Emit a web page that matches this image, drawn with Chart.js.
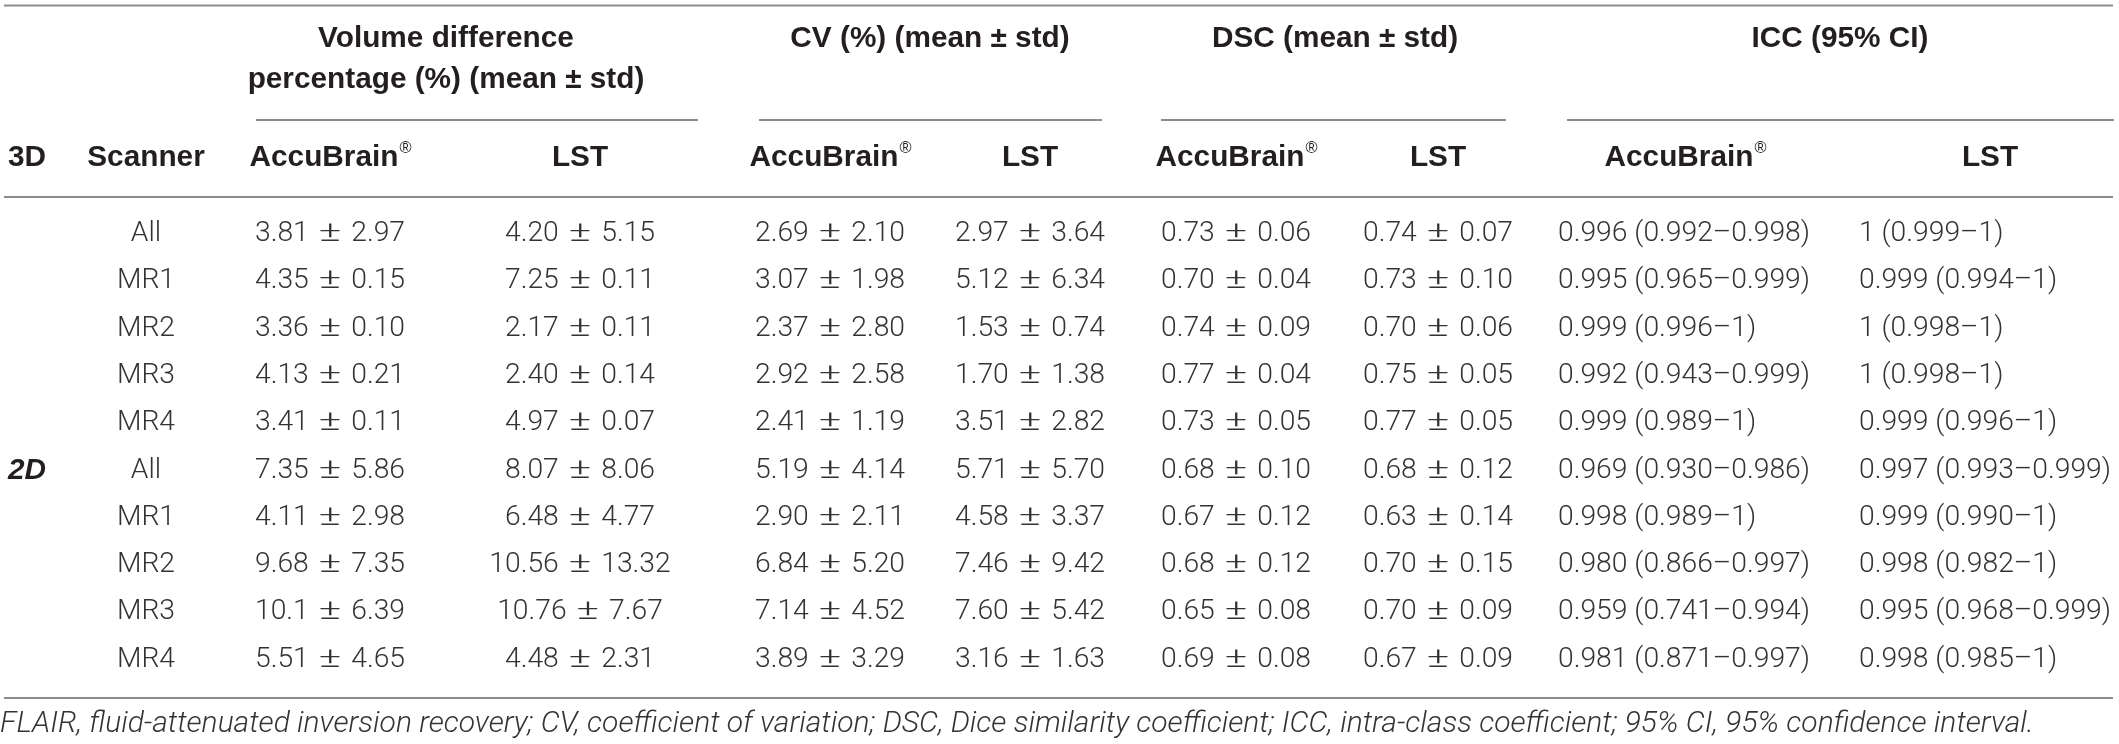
<!DOCTYPE html>
<html lang="en">
<head>
  <meta charset="UTF-8">
  <script src="https://cdn.jsdelivr.net/npm/chart.js@4.4.1/dist/chart.umd.min.js"></script>
  <title>Volume difference, CV, DSC and ICC by scanner</title>
  <style>
    html, body { margin: 0; padding: 0; background: #fff; }
    canvas { display: block; }
  </style>
</head>
<body>
  <canvas id="myChart" width="2119" height="744"></canvas>
  <script>
    // table content
    const groups = ['', '', '', '', '', '2D', '', '', '', ''];
    const scanners = ['All', 'MR1', 'MR2', 'MR3', 'MR4', 'All', 'MR1', 'MR2', 'MR3', 'MR4'];
    const volAccu = ['3.81 ± 2.97', '4.35 ± 0.15', '3.36 ± 0.10', '4.13 ± 0.21', '3.41 ± 0.11',
      '7.35 ± 5.86', '4.11 ± 2.98', '9.68 ± 7.35', '10.1 ± 6.39', '5.51 ± 4.65'];
    const volLst = ['4.20 ± 5.15', '7.25 ± 0.11', '2.17 ± 0.11', '2.40 ± 0.14', '4.97 ± 0.07',
      '8.07 ± 8.06', '6.48 ± 4.77', '10.56 ± 13.32', '10.76 ± 7.67', '4.48 ± 2.31'];
    const cvAccu = ['2.69 ± 2.10', '3.07 ± 1.98', '2.37 ± 2.80', '2.92 ± 2.58', '2.41 ± 1.19',
      '5.19 ± 4.14', '2.90 ± 2.11', '6.84 ± 5.20', '7.14 ± 4.52', '3.89 ± 3.29'];
    const cvLst = ['2.97 ± 3.64', '5.12 ± 6.34', '1.53 ± 0.74', '1.70 ± 1.38', '3.51 ± 2.82',
      '5.71 ± 5.70', '4.58 ± 3.37', '7.46 ± 9.42', '7.60 ± 5.42', '3.16 ± 1.63'];
    const dscAccu = ['0.73 ± 0.06', '0.70 ± 0.04', '0.74 ± 0.09', '0.77 ± 0.04', '0.73 ± 0.05',
      '0.68 ± 0.10', '0.67 ± 0.12', '0.68 ± 0.12', '0.65 ± 0.08', '0.69 ± 0.08'];
    const dscLst = ['0.74 ± 0.07', '0.73 ± 0.10', '0.70 ± 0.06', '0.75 ± 0.05', '0.77 ± 0.05',
      '0.68 ± 0.12', '0.63 ± 0.14', '0.70 ± 0.15', '0.70 ± 0.09', '0.67 ± 0.09'];
    const iccAccu = ['0.996 (0.992–0.998)', '0.995 (0.965–0.999)', '0.999 (0.996–1)', '0.992 (0.943–0.999)', '0.999 (0.989–1)',
      '0.969 (0.930–0.986)', '0.998 (0.989–1)', '0.980 (0.866–0.997)', '0.959 (0.741–0.994)', '0.981 (0.871–0.997)'];
    const iccLst = ['1 (0.999–1)', '0.999 (0.994–1)', '1 (0.998–1)', '1 (0.998–1)', '0.999 (0.996–1)',
      '0.997 (0.993–0.999)', '0.999 (0.990–1)', '0.998 (0.982–1)', '0.995 (0.968–0.999)', '0.998 (0.985–1)'];

    const groupHeaders = [
      ['Volume difference', 'percentage (%) (mean ± std)'],
      ['CV (%) (mean ± std)'],
      ['DSC (mean ± std)'],
      ['ICC (95% CI)']
    ];
    const subHeaders = ['3D', 'Scanner', 'AccuBrain', 'LST', 'AccuBrain', 'LST', 'AccuBrain', 'LST', 'AccuBrain', 'LST'];
    const footnote = 'FLAIR, fluid-attenuated inversion recovery; CV, coefficient of variation; DSC, Dice similarity coefficient; ICC, intra-class coefficient; 95% CI, 95% confidence interval.';

    // layout (x in pixels along the x scale, y in row units along the y scale)
    const colX = [8, 146, 330, 580, 830, 1030, 1236, 1438, 1558, 1859];
    const colAlign = ['left', 'center', 'center', 'center', 'center', 'center', 'center', 'center', 'left', 'left'];
    const subHeadX = [8, 146, 330, 580, 830, 1030, 1236, 1438, 1685, 1990];
    const groupHeadX = [446, 930, 1335, 1840];
    const spans = [[256, 698], [759, 1102], [1161, 1506], [1567, 2114]];
    const RIGHT = 2113;
    const Y = { topRule: -4.83, head1: -4.13, head2: -3.25, span: -2.41, sub: -1.61, rule: -0.78, bottomRule: 9.81, foot: 10.37 };

    // target text widths used to size the fonts
    const FIT = { data: ['0.959 (0.741–0.994)', 252], pm: ['0.65 ± 0.08', 150], head: ['percentage (%) (mean ± std)', 397], foot: 2035 };
    const PM_STRETCH = 1.5; // the ± sign of the original is wide

    const columns = [groups, scanners, volAccu, volLst, cvAccu, cvLst, dscAccu, dscLst, iccAccu, iccLst];

    const INK = '#231f20';
    const TEXT = '#333333';
    const RULE = '#8c8c8c';

    function fitSize(ctx, text, style, family, target) {
      ctx.font = style + ' 100px ' + family;
      return 100 * target / ctx.measureText(text).width;
    }

    const tablePlugin = {
      id: 'tablePlugin',
      afterDatasetsDraw(chart) {
        const ctx = chart.ctx;
        const xs = chart.scales.x;
        const ys = chart.scales.y;
        const px = v => xs.getPixelForValue(v);
        const py = v => ys.getPixelForValue(v);
        ctx.save();

        const dataSize = fitSize(ctx, FIT.data[0], '300', 'Roboto', FIT.data[1]);
        const headSize = fitSize(ctx, FIT.head[0], 'bold', '"Liberation Sans"', FIT.head[1]);
        const footSize = fitSize(ctx, footnote, 'italic 300', 'Roboto', FIT.foot);
        const DATA_FONT = '300 ' + dataSize.toFixed(2) + 'px Roboto';
        const HEAD_FONT = 'bold ' + headSize.toFixed(2) + 'px "Liberation Sans"';
        const SUP_FONT = (headSize * 0.55).toFixed(2) + 'px "Liberation Sans"';

        function pmWidths(t) {
          const parts = t.split(' ± ');
          ctx.font = DATA_FONT;
          return {
            a: parts[0] + ' ', b: ' ' + parts[1],
            wa: ctx.measureText(parts[0] + ' ').width,
            wp: ctx.measureText('±').width * PM_STRETCH,
            wb: ctx.measureText(' ' + parts[1]).width
          };
        }
        const ref = pmWidths(FIT.pm[0]);
        const pmExtra = Math.max(0, (FIT.pm[1] - ref.wa - ref.wp - ref.wb) / 2);

        // value "a ± b" with the wide sign of the original
        function drawPM(t, x, y, align) {
          ctx.font = DATA_FONT;
          if (t.indexOf(' ± ') < 0) {
            ctx.textAlign = align;
            ctx.fillText(t, x, y);
            return;
          }
          const m = pmWidths(t);
          const total = m.wa + m.wp + m.wb + 2 * pmExtra;
          let left = align === 'left' ? x : x - total / 2;
          ctx.textAlign = 'left';
          ctx.fillText(m.a, left, y);
          left += m.wa + pmExtra;
          ctx.save();
          ctx.translate(left, y);
          ctx.scale(PM_STRETCH, 1);
          ctx.fillText('±', 0, 0);
          ctx.restore();
          left += m.wp + pmExtra;
          ctx.fillText(m.b, left, y);
        }

        function drawAccu(x, y) {
          ctx.font = HEAD_FONT;
          const w1 = ctx.measureText('AccuBrain').width;
          ctx.font = SUP_FONT;
          const w2 = ctx.measureText('®').width;
          const left = x - (w1 + w2) / 2;
          ctx.textAlign = 'left';
          ctx.font = HEAD_FONT;
          ctx.fillText('AccuBrain', left, y);
          ctx.font = SUP_FONT;
          ctx.fillText('®', left + w1 + 1, y - headSize * 0.33);
        }

        // rules
        ctx.strokeStyle = RULE;
        ctx.lineWidth = 2;
        const hline = (x0, x1, yv) => {
          ctx.beginPath();
          ctx.moveTo(px(x0), py(yv));
          ctx.lineTo(px(x1), py(yv));
          ctx.stroke();
        };
        hline(4, RIGHT, Y.topRule);
        hline(4, RIGHT, Y.rule);
        hline(4, RIGHT, Y.bottomRule);
        spans.forEach(s => hline(s[0], s[1], Y.span));

        // group headers
        ctx.fillStyle = INK;
        ctx.textBaseline = 'middle';
        ctx.textAlign = 'center';
        ctx.font = HEAD_FONT;
        groupHeaders.forEach((lines, i) => {
          lines.forEach((t, j) => ctx.fillText(t, px(groupHeadX[i]), py(j === 0 ? Y.head1 : Y.head2)));
        });

        // sub headers
        subHeaders.forEach((t, i) => {
          if (t === 'AccuBrain') {
            drawAccu(px(subHeadX[i]), py(Y.sub));
          } else {
            ctx.font = HEAD_FONT;
            ctx.textAlign = i === 0 ? 'left' : 'center';
            ctx.fillText(t, px(subHeadX[i]), py(Y.sub));
          }
        });

        // cells, placed at each dataset point
        chart.data.datasets.forEach((ds, di) => {
          const meta = chart.getDatasetMeta(di);
          meta.data.forEach((pt, i) => {
            const t = ds.texts[i];
            if (!t) return;
            if (di === 0) {
              ctx.font = 'italic bold ' + headSize.toFixed(2) + 'px "Liberation Sans"';
              ctx.fillStyle = INK;
              ctx.textAlign = 'left';
              ctx.fillText(t, pt.x, pt.y);
            } else {
              ctx.fillStyle = TEXT;
              drawPM(t, pt.x, pt.y, colAlign[di]);
            }
          });
        });

        // footnote
        ctx.font = 'italic 300 ' + footSize.toFixed(2) + 'px Roboto';
        ctx.fillStyle = TEXT;
        ctx.textAlign = 'left';
        ctx.fillText(footnote, px(0), py(Y.foot));
        ctx.restore();
      }
    };

    const ctx = document.getElementById('myChart').getContext('2d');
    const myChart = new Chart(ctx, {
      type: 'scatter',
      data: {
        datasets: columns.map((col, c) => ({
          label: 'col' + c,
          texts: col,
          data: col.map((_, i) => ({ x: colX[c], y: i })),
          pointRadius: 0
        }))
      },
      options: {
        responsive: false,
        animation: false,
        devicePixelRatio: 1,
        events: [],
        layout: { padding: 0 },
        plugins: { legend: { display: false }, tooltip: { enabled: false } },
        scales: {
          x: { type: 'linear', min: 0, max: 2119, display: false },
          y: { type: 'linear', min: -4.947, max: 10.782, reverse: true, display: false }
        }
      },
      plugins: [tablePlugin]
    });
  </script>
</body>
</html>
